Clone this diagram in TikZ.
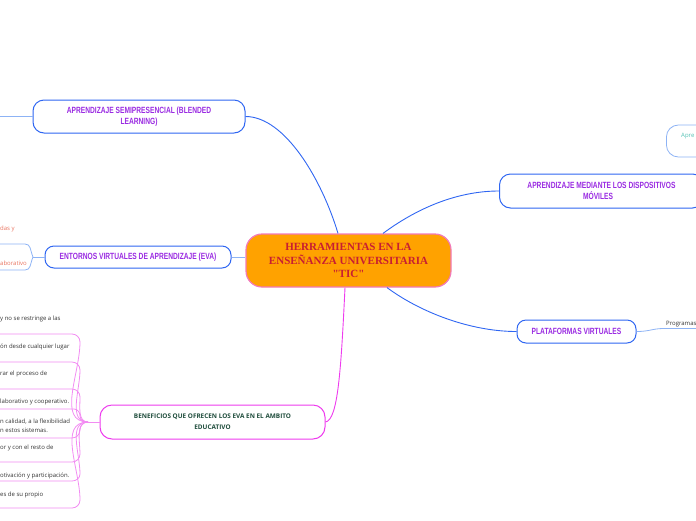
\documentclass[tikz,border=0pt]{standalone}
\usepackage{fontspec}
\setmainfont{Open Sans}
\newfontfamily\titlefont{Liberation Serif}
\newfontfamily\boxfont{Liberation Sans}[FakeStretch=0.74]
\usetikzlibrary{positioning, calc}

\definecolor{mapblue}{HTML}{2F66F2}
\definecolor{leafblue}{HTML}{8DB3F5}
\definecolor{mappurple}{HTML}{9A2BE2}
\definecolor{mapmagenta}{HTML}{EE3BEE}
\definecolor{leafmagenta}{HTML}{F28CF2}
\definecolor{rootfill}{HTML}{FFA200}
\definecolor{rootdraw}{HTML}{F27AB8}
\definecolor{roottext}{HTML}{C81E32}
\definecolor{bentext}{HTML}{1F4D3C}
\definecolor{salmontext}{HTML}{E8735F}
\definecolor{tealtext}{HTML}{55C2B5}
\definecolor{leaftext}{HTML}{333333}

\begin{document}
\begin{tikzpicture}[
    x=1pt, y=1pt,
    root/.style={draw=rootdraw, line width=1.2pt, fill=rootfill, rounded corners=16pt,
                 minimum width=205pt, minimum height=53pt, align=center, text=roottext,
                 font=\titlefont\bfseries\fontsize{11}{13.5}\selectfont},
    topic/.style={draw=mapblue, line width=1pt, fill=white, rounded corners=11pt,
                  align=center, text=mappurple, inner sep=0pt,
                  font=\boxfont\bfseries\fontsize{9}{11.5}\selectfont},
    bentopic/.style={topic, draw=mapmagenta, text=bentext,
                     font=\bfseries\fontsize{6.4}{11}\selectfont},
    leaf/.style={anchor=west, inner sep=0pt, align=left, text=leaftext,
                 font=\fontsize{6}{9}\selectfont},
    conn/.style={draw=mapblue, line width=0.9pt},
    benconn/.style={draw=mapmagenta, line width=0.9pt},
    leafline/.style={draw=leafblue, line width=0.8pt},
    benline/.style={draw=leafmagenta, line width=0.8pt},
]
    \useasboundingbox (0,0) rectangle (696,-520);
    \clip (0,0) rectangle (696,-520);

    %==================== ROOT ====================
    \node[root] (root) at (348.5,-260.5)
        {HERRAMIENTAS EN LA\\ENSEÑANZA UNIVERSITARIA\\"TIC"};

    %==================== BLENDED ====================
    \node[topic, minimum width=212pt, minimum height=33pt] (blend) at (139,-116.5)
        {APRENDIZAJE SEMIPRESENCIAL (BLENDED\\LEARNING)};
    \coordinate (blendout) at (0,-116.5);
    \draw[leafline] (blend.west) -- (blendout);
    \draw[conn] ($(root.north)+(-10.5,0)$) .. controls (322,-180) and (285,-116.5) .. (blend.east);

    %==================== MOVILES ====================
    \node[topic, minimum width=204pt, minimum height=34pt, anchor=west] (movil) at (499,-191)
        {APRENDIZAJE MEDIANTE LOS DISPOSITIVOS\\MÓVILES\hspace*{7pt}};
    \draw[conn] ($(root.north)+(34.5,0)$) .. controls (420,-206) and (460,-191) .. (movil.west);

    % partial box at the right edge
    \node[draw=leafblue, line width=0.8pt, fill=white, rounded corners=12pt,
          minimum width=80pt, minimum height=32pt, anchor=west] (apre) at (666,-141) {};
    \node[leaf, text=tealtext] (apretext) at (681,-136) {Apre};

    %==================== PLATAFORMAS ====================
    \node[topic, minimum width=119pt, minimum height=23pt, rounded corners=9pt] (plat)
        at (576.5,-331.5) {PLATAFORMAS VIRTUALES};
    \draw[conn] ($(root.south)+(38.5,0)$) .. controls (420,-312) and (470,-331.5) .. (plat.west);
    \node[leaf] (prog) at (666,-324.5) {Programas};
    \coordinate (progend) at (700,-328.5);
    \draw[leafline] (plat.east) .. controls (650,-331.5) and (652,-328.5) .. (664,-328.5) -- (progend);

    %==================== EVA ====================
    \node[topic, minimum width=186pt, minimum height=22pt, rounded corners=9pt] (eva)
        at (138,-257) {ENTORNOS VIRTUALES DE APRENDIZAJE (EVA)};
    \draw[conn, draw=leafblue] (eva.east) -- (root.west |- eva.east);

    \coordinate (evaj) at (33,-257);
    \coordinate (eva1) at (0,-244);
    \coordinate (eva2) at (0,-270);
    \draw[leafline] (eva.west) -- (evaj);
    \draw[leafline] (evaj) .. controls (30,-250) and (31,-244) .. (25,-244) -- (eva1);
    \draw[leafline] (evaj) .. controls (30,-264) and (31,-270) .. (25,-270) -- (eva2);
    \node[leaf, text=salmontext] (eva1text) at (0,-228.5) {das y};
    \node[leaf, text=salmontext] (eva2text) at (0,-263.5) {aborativo};

    %==================== BENEFICIOS ====================
    \node[bentopic, minimum width=225pt, minimum height=34pt, rounded corners=12pt] (ben)
        at (212.5,-422) {BENEFICIOS QUE OFRECEN LOS EVA EN EL AMBITO\\EDUCATIVO};
    \draw[benconn] ($(root.south)+(-3.5,0)$) .. controls (341,-370) and (338,-420) .. (ben.east);

    \coordinate (benj) at (88,-422);
    \draw[benline] (ben.west) -- (benj);

    % items above the junction
    \draw[benline] (benj) to[out=180, in=-90] (80,-342) to[out=90, in=0] (72,-334) -- (0,-334);
    \draw[benline] (benj) to[out=180, in=-90] (80,-370) to[out=90, in=0] (72,-362) -- (0,-362);
    \draw[benline] (benj) to[out=180, in=-90] (80,-397) to[out=90, in=0] (72,-389) -- (0,-389);
    \draw[benline] (benj) to[out=180, in=-90] (80,-416) to[out=90, in=0] (74,-409) -- (0,-409);
    % items below the junction
    \draw[benline] (benj) to[out=180, in=90] (80,-430) to[out=-90, in=0] (72,-438) -- (0,-438);
    \draw[benline] (benj) to[out=180, in=90] (80,-454) to[out=-90, in=0] (72,-462) -- (0,-462);
    \draw[benline] (benj) to[out=180, in=90] (80,-474) to[out=-90, in=0] (72,-481) -- (0,-481);
    \draw[benline] (benj) to[out=180, in=90] (80,-500) to[out=-90, in=0] (72,-508) -- (0,-508);

    \node[leaf] (ben1) at (0,-318.5) {y no se restringe a las};
    \node[leaf] (ben2) at (0,-347) {ón desde cualquier lugar};
    \node[leaf] (ben3) at (0,-374) {rar el proceso de};
    \node[leaf] (ben4) at (0,-402) {laborativo y cooperativo.};
    \node[leaf] (ben5) at (0,-425.5) {n calidad, a la flexibilidad\\n estos sistemas.};
    \node[leaf] (ben6) at (0,-448) {or y con el resto de};
    \node[leaf] (ben7) at (0,-476) {otivación y participación.};
    \node[leaf] (ben8) at (0,-494.5) {es de su propio};

\end{tikzpicture}
\end{document}
